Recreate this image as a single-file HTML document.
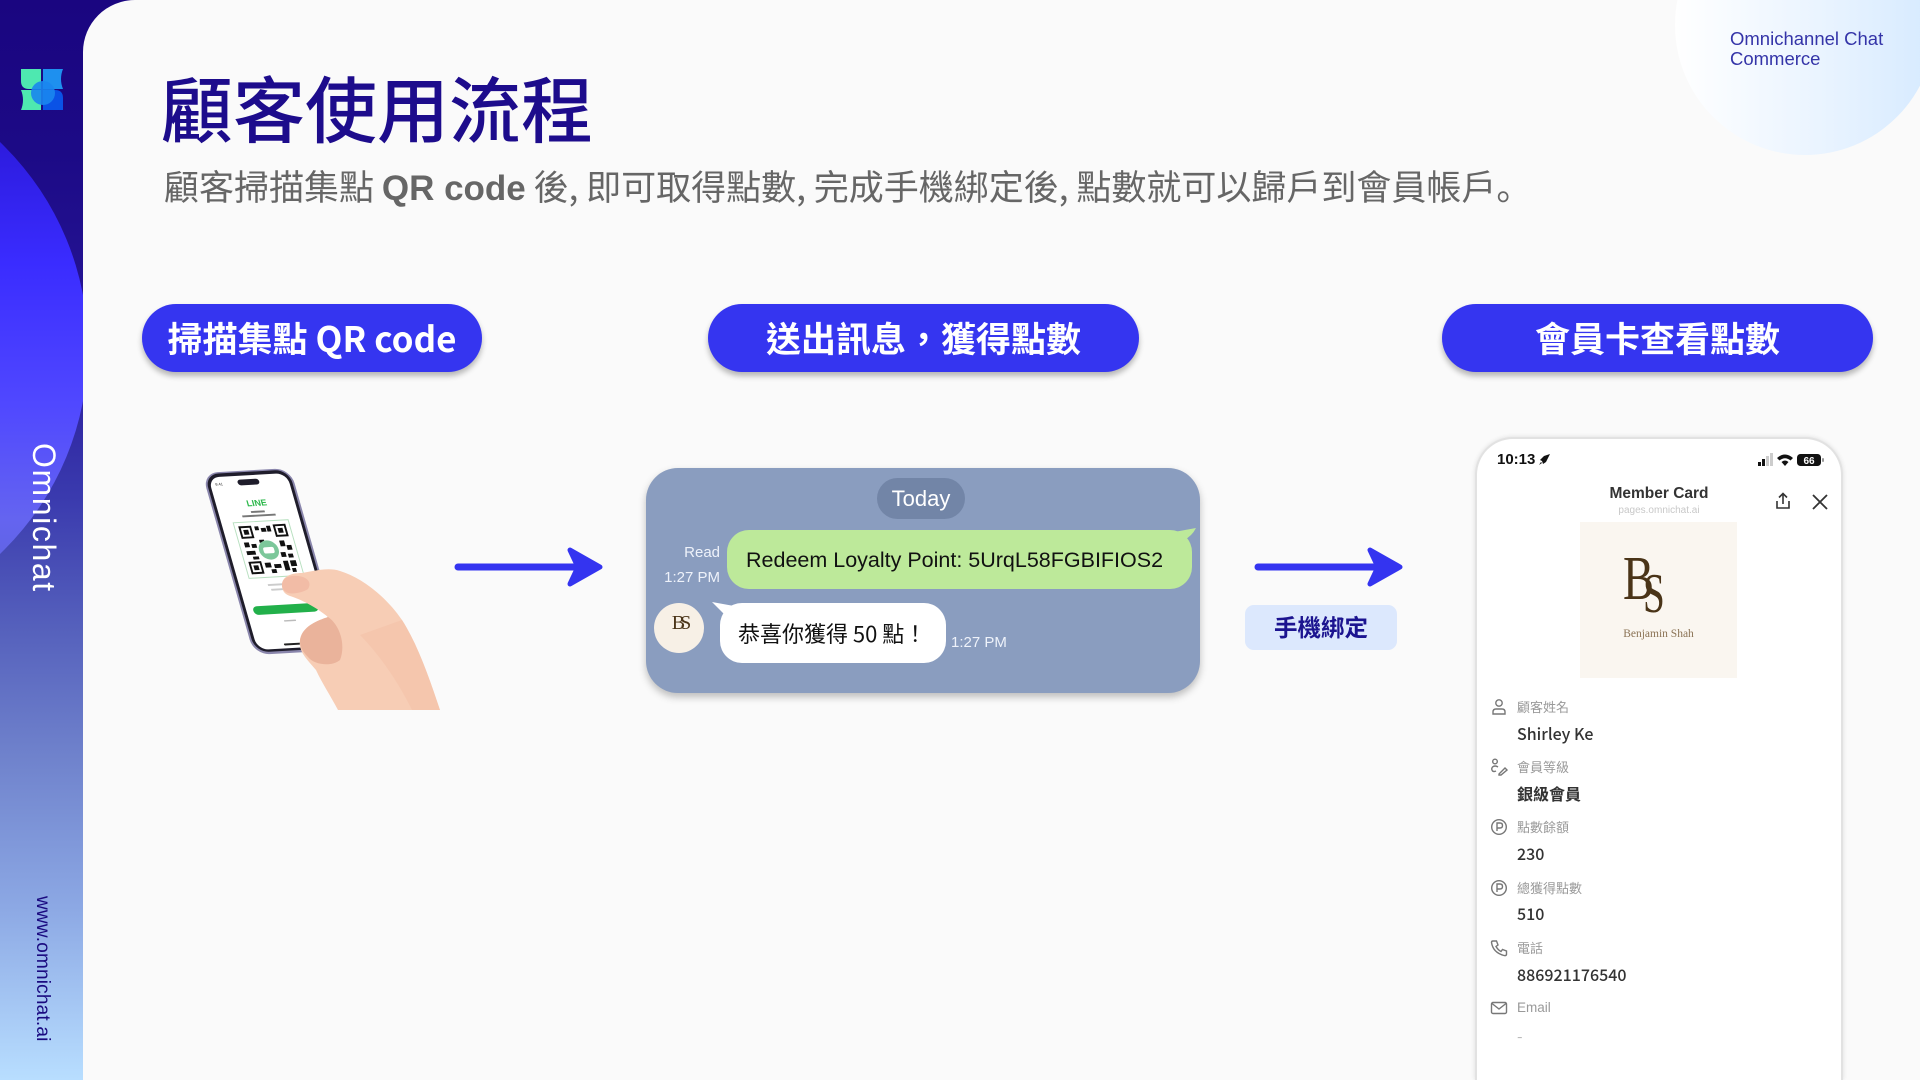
<!DOCTYPE html>
<html><head><meta charset="utf-8">
<style>
*{margin:0;padding:0;box-sizing:border-box}
html,body{width:1920px;height:1080px;overflow:hidden;background:#fafafa}
body{position:relative;font-family:"Liberation Sans","Noto Sans CJK TC",sans-serif}
.a{position:absolute}
.cjk{font-family:"Noto Sans CJK TC","Liberation Sans",sans-serif}
.jp{font-family:"Noto Sans CJK JP",sans-serif}
.pill{position:absolute;top:304px;height:68px;border-radius:34px;background:#3535f0;color:#fff;font-family:"Noto Sans CJK TC",sans-serif;font-weight:700;font-size:35px;display:flex;align-items:center;justify-content:center;box-shadow:0 4px 6px rgba(0,0,0,.28);white-space:nowrap;padding-bottom:2px}
.lbl{position:absolute;left:1517px;font-family:"Noto Sans CJK TC",sans-serif;font-size:13px;color:#9a9a9a;line-height:16px;white-space:nowrap}
.val{position:absolute;left:1517px;font-family:"Noto Sans CJK TC",sans-serif;font-size:16px;font-weight:500;color:#333;line-height:20px;white-space:nowrap}
.ico{position:absolute;left:1490px;width:18px;height:18px}
</style></head><body>

<!-- sidebar -->
<div class="a" style="left:0;top:0;width:140px;height:1080px;overflow:hidden;background:linear-gradient(180deg,#1a0580 0%,#1c0a86 14%,#261596 30%,#3a3aae 46%,#5560bc 58%,#6f82cc 70%,#8ca8e4 84%,#b8deff 100%)">
  <div class="a" style="left:-482px;top:63px;width:570px;height:570px;border-radius:50%;background:linear-gradient(180deg,#2a18d8 10%,#3a2cff 35%,#5048ff 60%,#6464f0 80%,#5a66d0 100%)"></div>
</div>
<!-- logo -->
<svg class="a" style="left:21px;top:69px" width="42" height="41" viewBox="0 0 42 41">
  <path d="M0 0 H20 V20 H8 Q0 20 0 12Z" fill="#4ee8b0"/>
  <path d="M0 21 H20 V41 H0 Q4 31 0 21Z" fill="#4ee8b0"/>
  <path d="M22 0 H42 Q38 10 42 20 H22Z" fill="#1e90ef"/>
  <path d="M22 21 H34 Q42 21 42 29 V41 H22Z" fill="#0a52e6"/>
  <circle cx="22" cy="24" r="12" fill="#1a86ee" opacity=".9"/>
</svg>
<div class="a" style="left:60px;top:443px;transform:rotate(90deg);transform-origin:0 0;font-size:32px;line-height:32px;color:#fff;letter-spacing:1.6px;white-space:nowrap">Omnichat</div>
<div class="a" style="left:52px;top:896px;transform:rotate(90deg);transform-origin:0 0;font-size:19px;line-height:19px;color:#1a0a80;white-space:nowrap;letter-spacing:.2px">www.omnichat.ai</div>

<!-- main panel -->
<div class="a" style="left:83px;top:0;width:1837px;height:1080px;background:#fafafa;border-top-left-radius:52px;overflow:hidden">
  <div class="a" style="left:1592px;top:-105px;width:260px;height:260px;border-radius:50%;background:linear-gradient(90deg,#ffffff 0%,#eaf4ff 55%,#d6eaff 100%)"></div>
</div>
<div class="a" style="left:1730px;top:29px;font-size:18.5px;line-height:20px;color:#3434a8;white-space:nowrap">Omnichannel Chat<br>Commerce</div>

<!-- title -->
<div class="a cjk" style="left:161px;top:70px;font-size:72px;line-height:72px;font-weight:500;color:#1d0c8c;white-space:nowrap">顧客使用流程</div>
<div class="a cjk" style="left:164px;top:168px;font-size:35px;line-height:35px;color:#666;white-space:nowrap">顧客掃描集點 <b style="font-family:'Liberation Sans',sans-serif;font-weight:700">QR code</b> 後<span class="jp">,</span>&nbsp;即可取得點數<span class="jp">,</span>&nbsp;完成手機綁定後<span class="jp">,</span>&nbsp;點數就可以歸戶到會員帳戶<span class="jp">。</span></div>

<!-- pills -->
<div class="pill" style="left:142px;width:340px">掃描集點 QR code</div>
<div class="pill" style="left:708px;width:431px">送出訊息，獲得點數</div>
<div class="pill" style="left:1442px;width:431px">會員卡查看點數</div>

<!-- phone in hand -->
<svg class="a" style="left:190px;top:455px" width="260" height="260" viewBox="0 0 260 260">
  <g transform="matrix(0.98,-0.056,0.274,0.958,12,18)">
    <rect x="0" y="0" width="90" height="190" rx="16" fill="#8a86ac"/>
    <rect x="2" y="1.5" width="86" height="186" rx="14" fill="#1f1d2b"/>
    <rect x="5" y="5" width="80" height="180" rx="11" fill="#ffffff"/>
    <rect x="33" y="9" width="22" height="6" rx="3" fill="#1f1d2b"/>
    <text x="10" y="14" font-size="4" fill="#333" font-family="Liberation Sans">9:41</text>
    <text x="36" y="37" font-size="9" font-weight="700" fill="#2bb84a" font-family="Liberation Sans">LINE</text>
    <rect x="38" y="42" width="14" height="2" fill="#777"/>
    <rect x="28" y="46" width="34" height="2" fill="#777"/>
    <rect x="17" y="53" width="56" height="58" fill="#fff" stroke="#b8e0c0" stroke-width="1"/>
    <g fill="#111">
      <rect x="21" y="57" width="13" height="13"/><rect x="56" y="57" width="13" height="13"/><rect x="21" y="94" width="13" height="13"/>
      <rect x="37" y="58" width="4" height="4"/><rect x="43" y="60" width="5" height="4"/><rect x="49" y="58" width="4" height="6"/><rect x="38" y="72" width="5" height="3"/>
      <rect x="22" y="74" width="5" height="5"/><rect x="29" y="76" width="5" height="4"/><rect x="22" y="83" width="9" height="4"/><rect x="27" y="89" width="6" height="3"/>
      <rect x="58" y="74" width="5" height="6"/><rect x="64" y="79" width="5" height="5"/><rect x="56" y="86" width="5" height="5"/><rect x="63" y="88" width="5" height="4"/>
      <rect x="37" y="96" width="6" height="5"/><rect x="46" y="98" width="7" height="4"/><rect x="56" y="95" width="5" height="10"/>
      <rect x="42" y="103" width="5" height="4"/><rect x="63" y="95" width="6" height="6"/><rect x="63" y="103" width="4" height="4"/>
    </g>
    <g fill="#fff"><rect x="23" y="59" width="9" height="9"/><rect x="58" y="59" width="9" height="9"/><rect x="23" y="96" width="9" height="9"/></g>
    <g fill="#111"><rect x="25" y="61" width="5" height="5"/><rect x="60" y="61" width="5" height="5"/><rect x="25" y="98" width="5" height="5"/></g>
    <circle cx="45" cy="83" r="10" fill="#7cc79a"/>
    <rect x="39.5" y="80" width="11" height="6.5" rx="2" fill="#fff"/>
    <rect x="34" y="118" width="24" height="2" fill="#ccc"/>
    <rect x="36" y="123" width="20" height="2" fill="#ccc"/>
    <rect x="12" y="140" width="66" height="9" rx="4.5" fill="#22b04a"/>
    <rect x="40" y="156" width="12" height="1.5" fill="#bbb"/>
    <rect x="33" y="180" width="26" height="2" rx="1" fill="#222"/>
  </g>
  <path d="M92 130 C92 122 100 118 112 118 C125 116 138 112 150 116 C170 122 195 140 212 165 C228 190 240 225 250 255 L148 255 C140 240 132 228 126 215 C118 205 108 197 110 185 C112 172 126 166 138 162 C126 152 110 144 100 141 C94 139 92 135 92 130Z" fill="#f7cdb5"/>
  <path d="M110 185 C112 172 126 166 138 162 C150 170 156 190 150 205 C142 212 124 210 118 202 C112 196 110 192 110 185Z" fill="#eab39b"/>
  <path d="M92 130 C92 123 99 120 108 121 C118 122 122 128 118 134 C112 138 100 140 96 137 C93 135 92 133 92 130Z" fill="#f2bca6"/>
  <path d="M170 180 C190 200 210 230 222 255 L250 255 C240 225 228 190 212 165Z" fill="#f3c2a8" opacity=".6"/>
</svg>

<!-- arrow 1 -->
<svg class="a" style="left:440px;top:530px" width="180" height="75" viewBox="440 530 180 75">
  <line x1="458" y1="567" x2="585" y2="567" stroke="#3434f0" stroke-width="7" stroke-linecap="round"/>
  <polygon points="570,550 600,567 570,584 578,567" fill="#3434f0" stroke="#3434f0" stroke-width="5" stroke-linejoin="round"/>
</svg>

<!-- chat panel -->
<div class="a" style="left:646px;top:468px;width:554px;height:225px;border-radius:32px;background:#8a9dbf;box-shadow:0 4px 8px rgba(0,0,0,.25)"></div>
<div class="a" style="left:877px;top:478px;width:88px;height:41px;border-radius:21px;background:#7285a7;color:#fff;font-size:22px;line-height:41px;text-align:center">Today</div>
<div class="a" style="left:727px;top:530px;width:465px;height:59px;border-radius:22px;background:#bde99a"></div>
<svg class="a" style="left:1170px;top:524px" width="30" height="20" viewBox="0 0 30 20"><path d="M4 8 L26 4 Q22 12 14 16 Z" fill="#bde99a"/></svg>
<div class="a" style="left:746px;top:548px;font-size:21.5px;line-height:24px;color:#111;white-space:nowrap">Redeem Loyalty Point: 5UrqL58FGBIFIOS2</div>
<div class="a" style="left:640px;width:80px;top:544px;font-size:15px;line-height:18px;color:#eef2fa;text-align:right">Read</div>
<div class="a" style="left:620px;width:100px;top:569px;font-size:15px;line-height:18px;color:#eef2fa;text-align:right">1:27 PM</div>
<div class="a" style="left:654px;top:603px;width:50px;height:50px;border-radius:50%;background:#f7f0e6"></div>
<div class="a" style="left:654px;top:612px;width:50px;text-align:center;font-family:'Liberation Serif',serif;font-size:20px;line-height:22px;color:#4a3418;letter-spacing:-5px">BS</div>
<div class="a" style="left:720px;top:603px;width:226px;height:60px;border-radius:22px;background:#fff"></div>
<svg class="a" style="left:708px;top:598px" width="30" height="20" viewBox="0 0 30 20"><path d="M4 4 L26 8 L16 16 Z" fill="#fff"/></svg>
<div class="a cjk" style="left:738px;top:620px;font-size:22px;line-height:26px;color:#111;white-space:nowrap">恭喜你獲得 50 點！</div>
<div class="a" style="left:951px;top:634px;font-size:15px;line-height:18px;color:#eef2fa;white-space:nowrap">1:27 PM</div>

<!-- arrow 2 -->
<svg class="a" style="left:1240px;top:530px" width="180" height="75" viewBox="1240 530 180 75">
  <line x1="1258" y1="567" x2="1385" y2="567" stroke="#3434f0" stroke-width="7" stroke-linecap="round"/>
  <polygon points="1370,550 1400,567 1370,584 1378,567" fill="#3434f0" stroke="#3434f0" stroke-width="5" stroke-linejoin="round"/>
</svg>
<div class="a cjk" style="left:1245px;top:605px;width:152px;height:45px;border-radius:9px;background:#dce8fd;color:#1c1490;font-weight:700;font-size:23.5px;line-height:43px;text-align:center">手機綁定</div>

<!-- member card phone -->
<div class="a" style="left:1475px;top:437px;width:368px;height:643px;border-radius:38px 38px 0 0;background:#fff;border:2px solid #e2e2e2;border-bottom:none;box-shadow:0 0 5px rgba(0,0,0,.12)"></div>
<div class="a" style="left:1497px;top:451px;font-size:15px;font-weight:700;line-height:18px;color:#111">10:13</div>
<svg class="a" style="left:1538px;top:453px" width="13" height="13" viewBox="0 0 13 13"><path d="M12 1 L6 3 L2 7 L4 8 L5 11 L8 9 L10 5 Z" fill="#111"/><path d="M3 9 L1 12 L4 10Z" fill="#111"/></svg>
<svg class="a" style="left:1757px;top:452px" width="70" height="16" viewBox="0 0 70 16">
  <rect x="1" y="10" width="3" height="4" fill="#111"/><rect x="5" y="7" width="3" height="7" fill="#111"/><rect x="9" y="4" width="3" height="10" fill="#ccc"/><rect x="13" y="1" width="3" height="13" fill="#ccc"/>
  <path d="M20 6 Q28 -1 36 6 L33.5 8.5 Q28 4 22.5 8.5Z M24.5 10 Q28 7 31.5 10 L28 14Z" fill="#111"/>
  <rect x="40" y="2" width="24" height="12" rx="3.5" fill="#111"/><rect x="65" y="6" width="2" height="4" rx="1" fill="#999"/>
  <text x="52" y="12" font-size="10" font-weight="700" fill="#fff" text-anchor="middle" font-family="Liberation Sans">66</text>
</svg>
<div class="a" style="left:1560px;width:198px;top:485px;text-align:center;font-size:15.5px;font-weight:700;line-height:18px;color:#333">Member Card</div>
<div class="a" style="left:1560px;width:198px;top:505px;text-align:center;font-size:10px;line-height:12px;color:#c8c8c8">pages.omnichat.ai</div>
<svg class="a" style="left:1773px;top:491px" width="20" height="20" viewBox="0 0 20 20" fill="none" stroke="#333" stroke-width="1.6"><path d="M10 13 V3 M6 6.5 L10 2.5 L14 6.5 M4 10 V17 H16 V10"/></svg>
<svg class="a" style="left:1811px;top:493px" width="18" height="18" viewBox="0 0 18 18" stroke="#333" stroke-width="1.8"><path d="M2 2 L16 16 M16 2 L2 16"/></svg>
<div class="a" style="left:1580px;top:522px;width:157px;height:156px;background:#faf6f0"></div>
<div class="a" style="left:1623px;top:548px;font-family:'Liberation Serif',serif;font-size:62px;line-height:62px;color:#4a3418;white-space:nowrap;transform:scaleX(.75);transform-origin:0 0">B</div>
<div class="a" style="left:1643px;top:566px;font-family:'Liberation Serif',serif;font-size:56px;line-height:56px;color:#4a3418;white-space:nowrap;transform:scaleX(.7);transform-origin:0 0">S</div>
<div class="a" style="left:1580px;width:157px;top:627px;text-align:center;font-family:'Liberation Serif',serif;font-size:11.5px;line-height:14px;color:#8b7355">Benjamin Shah</div>

<svg class="ico" style="top:698px" viewBox="0 0 18 18" fill="none" stroke="#777" stroke-width="1.4"><circle cx="9" cy="5" r="3.2"/><path d="M3 16 V14 Q3 11 6 11 H12 Q15 11 15 14 V16 Z"/></svg>
<div class="lbl" style="top:699px">顧客姓名</div>
<div class="val" style="top:723px">Shirley Ke</div>

<svg class="ico" style="top:758px" viewBox="0 0 18 18" fill="none" stroke="#777" stroke-width="1.4"><circle cx="5" cy="3.5" r="2.3"/><path d="M8 9 Q5 7 2.5 9 Q1 11 2.5 13 Q4 14 6 13 M9 16 L15 10 L17 12 L11 17 H9Z"/></svg>
<div class="lbl" style="top:759px">會員等級</div>
<div class="val" style="top:783px;font-weight:700">銀級會員</div>

<svg class="ico" style="top:818px" viewBox="0 0 18 18" fill="none" stroke="#777" stroke-width="1.4"><circle cx="9" cy="9" r="7.3"/><path d="M7 13 V5 H10 Q12.5 5 12.5 7.5 Q12.5 10 10 10 H7"/></svg>
<div class="lbl" style="top:819px">點數餘額</div>
<div class="val" style="top:843px">230</div>

<svg class="ico" style="top:879px" viewBox="0 0 18 18" fill="none" stroke="#777" stroke-width="1.4"><circle cx="9" cy="9" r="7.3"/><path d="M7 13 V5 H10 Q12.5 5 12.5 7.5 Q12.5 10 10 10 H7"/></svg>
<div class="lbl" style="top:880px">總獲得點數</div>
<div class="val" style="top:903px">510</div>

<svg class="ico" style="top:939px" viewBox="0 0 18 18" fill="none" stroke="#777" stroke-width="1.4"><path d="M3 2 L6.5 2 L8 6 L6 7.5 Q8 11 11 12.5 L12.5 10.5 L16.5 12 V15.5 Q16 17 14 16.5 Q3 13.5 1.5 3.5 Q1.5 2 3 2Z"/></svg>
<div class="lbl" style="top:940px">電話</div>
<div class="val" style="top:964px">886921176540</div>

<svg class="ico" style="top:999px" viewBox="0 0 18 18" fill="none" stroke="#777" stroke-width="1.4"><rect x="1.5" y="3.5" width="15" height="11" rx="1.5"/><path d="M2 4.5 L9 10 L16 4.5"/></svg>
<div class="lbl" style="top:1000px;font-family:'Liberation Sans',sans-serif;font-size:13.5px">Email</div>
<div class="val" style="top:1025px;color:#bbb;font-weight:400">-</div>

</body></html>
